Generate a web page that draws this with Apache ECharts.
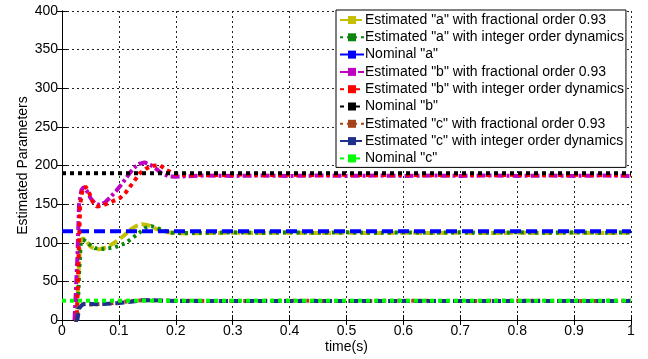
<!DOCTYPE html>
<html><head><meta charset="utf-8">
<script src="https://cdn.jsdelivr.net/npm/echarts@6/dist/echarts.min.js"></script>
<style>html,body{margin:0;padding:0;background:#fff}#c{width:648px;height:359px}</style>
</head><body><div id="c"></div>
<script>
// x ticks and y ticks
var xTicks = [0,0.1,0.2,0.3,0.4,0.5,0.6,0.7,0.8,0.9,1];
var yTicks = [0,50,100,150,200,250,300,350,400];
var seriesNames = ['Estimated "a" with fractional order 0.93','Estimated "a" with integer order dynamics','Nominal "a"',
 'Estimated "b" with fractional order 0.93','Estimated "b" with integer order dynamics','Nominal "b"',
 'Estimated "c" with fractional order 0.93','Estimated "c" with integer order dynamics','Nominal "c"'];
// [time, value]
var aFrac = [[0.022,0],[0.026,0],[0.029,60],[0.032,100],[0.036,106],[0.042,103],[0.05,95],[0.058,91.5],[0.068,92],[0.078,94],[0.09,99],[0.1,104],[0.11,110],[0.12,117],[0.13,121.5],[0.14,124],[0.15,123],[0.16,120],[0.17,116.5],[0.18,114],[0.2,112.5],[0.22,112],[0.25,112.5],[0.3,113],[0.35,112.5],[0.4,113],[0.45,112.5],[0.5,113],[0.55,112.5],[0.6,113],[0.65,112.5],[0.7,113],[0.75,112.5],[0.8,113],[0.85,112.5],[0.9,113],[0.95,112.5],[1,113]];
var aInt = [[0.022,0],[0.027,0],[0.03,60],[0.033,100],[0.038,104],[0.046,99],[0.058,93],[0.073,92],[0.093,94],[0.11,99],[0.12,104],[0.131,110],[0.146,119],[0.157,121.5],[0.167,119.5],[0.175,116.5],[0.193,113],[0.21,112.5],[0.25,113],[0.3,113.5],[0.35,113],[0.4,113.5],[0.45,113],[0.5,113.5],[0.55,113],[0.6,113.5],[0.65,113],[0.7,113.5],[0.75,113],[0.8,113.5],[0.85,113],[0.9,113.5],[0.95,113],[1,113.5]];
var aNom = [[0,115],[1,115]];
var bFrac = [[0.022,0],[0.025,0],[0.027,80],[0.03,150],[0.034,168],[0.038,172],[0.043,168],[0.05,158],[0.058,151],[0.066,149],[0.075,152],[0.085,159],[0.095,167],[0.105,176],[0.115,186],[0.125,196],[0.135,202],[0.145,204],[0.155,201],[0.165,196],[0.175,190],[0.187,186],[0.2,185.5],[0.22,186],[0.25,187],[0.3,186.5],[0.35,187],[0.4,186.5],[0.45,187],[0.5,186.5],[0.55,187],[0.6,186.5],[0.65,187],[0.7,186.5],[0.75,187],[0.8,186.5],[0.85,187],[0.9,186.5],[0.95,187],[1,186.5]];
var bInt = [[0.022,0],[0.026,0],[0.029,80],[0.032,150],[0.036,168],[0.041,173],[0.047,166],[0.054,153],[0.061,147],[0.07,148],[0.084,152],[0.102,158],[0.112,165],[0.12,173],[0.13,183],[0.137,190],[0.148,196],[0.158,199.5],[0.172,200.5],[0.184,194],[0.2,189],[0.22,187.5],[0.24,188],[0.28,187.5],[0.32,188.5],[0.36,187.5],[0.4,188],[0.45,187.5],[0.5,188],[0.55,187.5],[0.6,188],[0.65,187.5],[0.7,188],[0.75,187.5],[0.8,188],[0.85,187.5],[0.9,188],[0.95,187.5],[1,188]];
var bNom = [[0,190],[1,190]];
var cFrac = [[0.022,0],[0.026,0],[0.029,18],[0.035,21],[0.05,20],[0.07,21],[0.09,22],[0.11,23.5],[0.13,25],[0.15,25.5],[0.2,25],[0.3,24.5],[0.4,25],[0.5,24.5],[0.6,25],[0.7,24.5],[0.8,25],[0.9,24.5],[1,25]];
var cInt = [[0.023,0],[0.027,0],[0.03,15],[0.036,20],[0.045,21],[0.06,20.5],[0.08,21],[0.1,22],[0.12,23.5],[0.14,25.5],[0.16,25.5],[0.2,24.5],[0.3,24.5],[0.4,24.5],[0.5,24.5],[0.6,24.5],[0.7,24.5],[0.8,24.5],[0.9,24.5],[1,24.5]];
var cNom = [[0,25],[1,25]];

var dataList = [aFrac,aInt,aNom,bFrac,bInt,bNom,cFrac,cInt,cNom];
var colors = ['#c4bf00','#0b850b','#0000ff','#c000c0','#ff0000','#000000','#a5441a','#1f2f8c','#00ff00'];
var dashes = [[9,4],[3,4],[11,5],[9,3,3,3],[4,4],[4,4],[3,4],[9,4],[4,4]];
var FONT = "'Liberation Sans', Arial, sans-serif";
var series = dataList.map(function(d,i){
  return {name: seriesNames[i], type:'line', data:d, symbol:'rect', symbolSize:4, showSymbol:false, animation:false,
    xAxisIndex:0, yAxisIndex:0,
    lineStyle:{color:colors[i], width:4, type:dashes[i], cap:'butt'}, itemStyle:{color:colors[i]}, z: 2+i*0.01};
});
var chart = echarts.init(document.getElementById('c'), null, {renderer:'canvas'});
var axisCommon = {min:0, axisLine:{show:true, lineStyle:{color:'#000', width:1}}, axisTick:{show:true, inside:true, length:5, lineStyle:{color:'#000'}}};
chart.setOption({
  backgroundColor:'#fff',
  animation:false,
  grid:{left:62, right:17, top:11, bottom:39, containLabel:false},
  legend:{orient:'vertical', left:336, top:10, data:seriesNames, itemWidth:24, itemHeight:10, itemGap:3.3,
    borderColor:'#000', borderWidth:1, backgroundColor:'#fff', padding:[3,2,2,3], borderRadius:0,
    textStyle:{fontFamily:FONT, fontSize:14, color:'#000', padding:[0,0,0,-4]}, z:10},
  xAxis:[
    Object.assign({}, axisCommon, {type:'value', max:1, interval:0.1, position:'bottom',
      name:'time(s)', nameLocation:'middle', nameGap:20, nameMoveOverlap:false, nameTextStyle:{fontFamily:FONT, fontSize:14, color:'#000'},
      axisLabel:{fontFamily:FONT, fontSize:14, color:'#000', margin:4, formatter:function(v){return xTicks.indexOf(Math.round(v*10)/10)>=0?String(Math.round(v*10)/10):'';}},
      splitLine:{show:true, lineStyle:{color:'#222', width:1, type:[2,3]}}}),
    Object.assign({}, axisCommon, {type:'value', max:1, interval:0.1, position:'top', axisLabel:{show:false}, splitLine:{show:false}})
  ],
  yAxis:[
    Object.assign({}, axisCommon, {type:'value', max:400, interval:50, position:'left',
      name:'Estimated Parameters', nameLocation:'middle', nameGap:32, nameMoveOverlap:false, nameTextStyle:{fontFamily:FONT, fontSize:14, color:'#000'},
      axisLabel:{fontFamily:FONT, fontSize:14, color:'#000', margin:4, formatter:function(v){return yTicks.indexOf(v)>=0?String(v):'';}},
      splitLine:{show:true, lineStyle:{color:'#222', width:1, type:[2,3]}}}),
    Object.assign({}, axisCommon, {type:'value', max:400, interval:50, position:'right', axisLabel:{show:false}, splitLine:{show:false}})
  ],
  series: series
});
</script></body></html>
